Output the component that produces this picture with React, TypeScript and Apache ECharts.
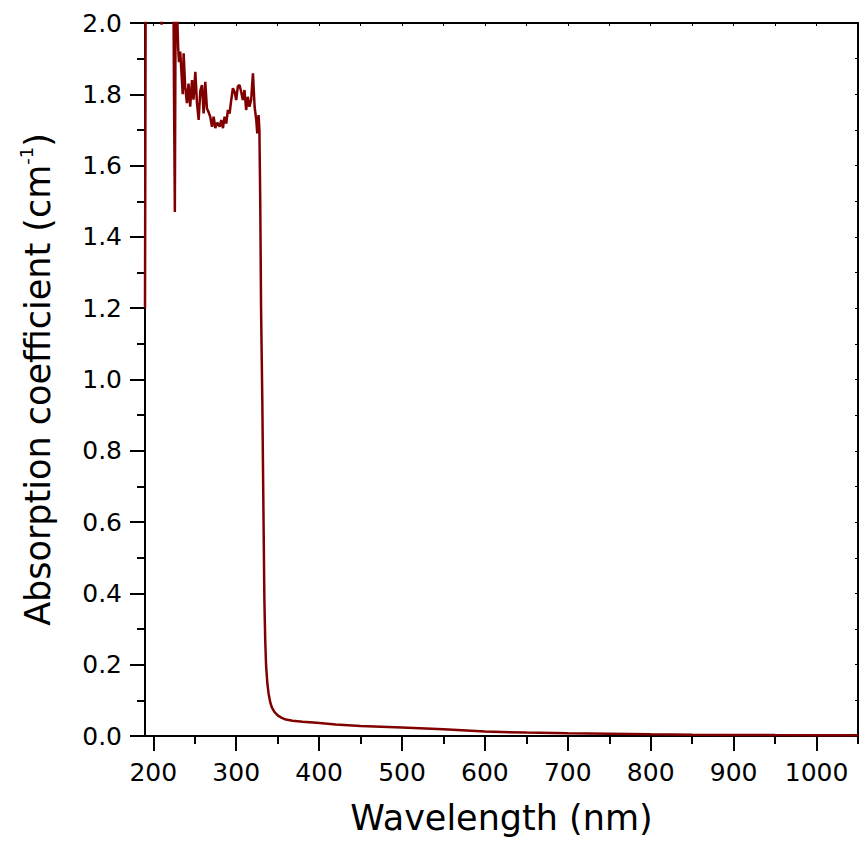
import React, { useEffect, useRef } from "react";
import * as echarts from "echarts";

const wavelengths = [
  190, 191, 193, 196, 200, 205, 210, 213, 218, 222, 224, 225, 226, 227, 228.5, 230, 231,
  232.5, 234, 235.5, 236.6, 238.5, 240.6, 242.5, 244.5, 246.7, 248.5, 250.7, 252.7, 254.7,
  256.7, 258.7, 260.7, 262.7, 264.7, 266.7, 268.7, 270.8, 272.8, 274.8, 276.8, 278, 280, 282,
  284, 286, 288, 290, 292, 294, 296, 298, 300, 302, 304, 306, 308, 310, 312, 314, 316, 318,
  320.2, 322.2, 324.2, 325.4, 327, 328, 329, 330, 331.5, 333, 334, 335, 336, 337.5, 339, 341,
  343, 346, 350, 355, 360, 368, 380, 397, 420, 450, 500, 550, 600, 650, 700, 750, 800, 850,
  900, 950, 1000, 1050,
];

const absorption = [
  1.2, 2.3, 2.6, 2.8, 2.7, 2.4, 1.995, 2.3, 2.5, 2.4, 2.2, 1.8, 1.47, 2.1, 2.05, 1.93, 1.89,
  1.92, 1.86, 1.8, 1.915, 1.82, 1.775, 1.83, 1.765, 1.84, 1.785, 1.863, 1.775, 1.728,
  1.81, 1.826, 1.746, 1.835, 1.76, 1.75, 1.737, 1.709, 1.737, 1.705, 1.72, 1.718, 1.709, 1.728,
  1.705, 1.737, 1.718, 1.756, 1.746, 1.784, 1.817, 1.807, 1.784, 1.822, 1.826, 1.807, 1.784,
  1.812, 1.756, 1.793, 1.765, 1.784, 1.859, 1.765, 1.728, 1.69, 1.742, 1.7, 1.5, 1.2, 0.94,
  0.6, 0.38, 0.27, 0.2, 0.15, 0.12, 0.095, 0.08, 0.068, 0.058, 0.051, 0.046, 0.043, 0.04,
  0.037, 0.032, 0.028, 0.024, 0.019, 0.0125, 0.0095, 0.0075, 0.006, 0.0047, 0.0037, 0.003,
  0.0025, 0.0022, 0.002,
];

const xMajorTicks = [200, 300, 400, 500, 600, 700, 800, 900, 1000];
const xMinorTicks = [250, 350, 450, 550, 650, 750, 850, 950, 1050];
const xTopTicks = [
  200, 250, 300, 350, 400, 450, 500, 550, 600, 650, 700, 750, 800, 850, 900, 950, 1000, 1050,
];

const FONT = "DejaVu Sans";

export default function App() {
  const ref = useRef<HTMLDivElement>(null);
  useEffect(() => {
    if (!ref.current) return;
    const chart = echarts.init(ref.current, undefined, { renderer: "svg" });
    const line = { lineStyle: { color: "#000", width: 2 } };
    chart.setOption({
      animation: false,
      backgroundColor: "#fff",
      grid: { left: 145, right: 5, top: 23, bottom: 114 },
      xAxis: [
        {
          type: "value",
          position: "bottom",
          min: 190,
          max: 1050,
          name: "Wavelength (nm)",
          nameLocation: "middle",
          nameGap: 64,
          nameTextStyle: { fontFamily: FONT, fontSize: 35, color: "#000" },
          axisLine: { show: true, onZero: false, ...line },
          axisTick: {
            show: true,
            length: 15,
            customValues: xMajorTicks,
            lineStyle: { color: "#000", width: 2 },
          },
          axisLabel: {
            customValues: xMajorTicks,
            margin: 24,
            fontFamily: FONT,
            fontSize: 25,
            color: "#000",
            formatter: (v: number) => String(v),
          },
          splitLine: { show: false },
        },
        {
          type: "value",
          position: "bottom",
          min: 190,
          max: 1050,
          axisLine: { show: false, onZero: false },
          axisTick: {
            show: true,
            length: 8,
            customValues: xMinorTicks,
            lineStyle: { color: "#000", width: 2 },
          },
          axisLabel: { show: false },
          splitLine: { show: false },
        },
        {
          type: "value",
          position: "top",
          min: 190,
          max: 1050,
          axisLine: { show: true, onZero: false, ...line },
          axisTick: {
            show: true,
            inside: true,
            length: 3,
            customValues: xTopTicks,
            lineStyle: { color: "#000", width: 1 },
          },
          axisLabel: { show: false },
          splitLine: { show: false },
        },
      ],
      yAxis: [
        {
          type: "value",
          position: "left",
          min: 0,
          max: 2,
          interval: 0.2,
          name: "{a|Absorption coefficient (cm}{sup|-1}{a|)}",
          nameLocation: "middle",
          nameGap: 86,
          nameRotate: 90,
          nameTextStyle: {
            color: "#000",
            rich: {
              a: { fontFamily: FONT, fontSize: 35, color: "#000", lineHeight: 42 },
              sup: {
                fontFamily: FONT,
                fontSize: 18,
                color: "#000",
                verticalAlign: "top",
                lineHeight: 42,
                padding: [0, 0, 18, 0],
              },
            },
          },
          axisLine: { show: true, onZero: false, ...line },
          axisTick: { show: true, length: 15, lineStyle: { color: "#000", width: 2 } },
          minorTick: {
            show: true,
            splitNumber: 2,
            length: 8,
            lineStyle: { color: "#000", width: 2 },
          },
          axisLabel: {
            margin: 23,
            fontFamily: FONT,
            fontSize: 25,
            color: "#000",
            formatter: (v: number) => v.toFixed(1),
          },
          splitLine: { show: false },
          minorSplitLine: { show: false },
        },
        {
          type: "value",
          position: "right",
          min: 0,
          max: 2,
          interval: 0.1,
          axisLine: { show: true, onZero: false, ...line },
          axisTick: { show: true, inside: true, length: 3, lineStyle: { color: "#000", width: 1 } },
          axisLabel: { show: false },
          splitLine: { show: false },
        },
      ],
      series: [
        {
          type: "line",
          xAxisIndex: 0,
          yAxisIndex: 0,
          data: wavelengths.map((w, i) => [w, absorption[i]]),
          showSymbol: false,
          symbol: "none",
          clip: true,
          lineStyle: { color: "#800000", width: 2.5 },
          z: 5,
        },
      ],
    });
    return () => chart.dispose();
  }, []);
  return (
    <div
      ref={ref}
      style={{ position: "fixed", left: 0, top: 0, width: 863, height: 850, background: "#fff" }}
    />
  );
}
